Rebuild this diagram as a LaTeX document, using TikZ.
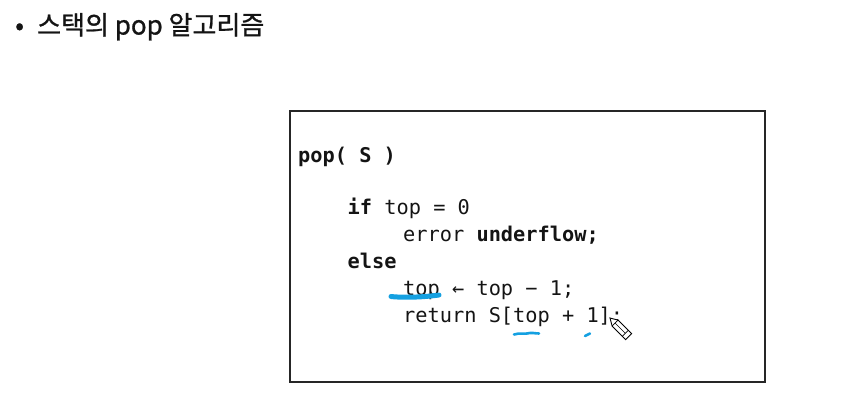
\documentclass[tikz,border=0pt]{standalone}
\usepackage{fontspec}
\setmonofont{DejaVu Sans Mono}
\newfontfamily\krfont[RawFeature={embolden=0.9}]{Noto Sans CJK KR}
\definecolor{hl}{RGB}{20,160,225}
\definecolor{ink}{RGB}{20,20,20}
\tikzset{
  codeline/.style={anchor=base west, inner sep=0pt, text=ink, font=\fontsize{20.3}{24}\selectfont\ttfamily},
  titletext/.style={anchor=base west, inner sep=0pt, text=ink, font=\fontsize{26}{30}\selectfont\krfont},
  hlstroke/.style={draw=hl, line cap=round, line join=round},
  codebox/.style={draw=black!85, line width=1.4pt}
}
\begin{document}
\begin{tikzpicture}[x=1pt,y=-1pt]
\useasboundingbox (0,0) rectangle (861,408);
% title
\node[titletext] (bullet) at (15,34.5) {•};
\node[titletext] (title) at (37,34.5) {스택의 pop 알고리즘};
% box
\draw[codebox] (290,111) rectangle (765,382);
% code
\node[codeline] (l1) at (298,162) {\bfseries pop( S )};
\node[codeline] (l2) at (347.5,214) {\textbf{if} top = 0};
\node[codeline] (l3) at (403,241) {error \textbf{underflow;}};
\node[codeline] (l4) at (347.5,268) {\bfseries else};
\node[codeline] (l5) at (403,295) {top ← top − 1;};
\node[codeline] (l6) at (403,322) {return S[top + 1];};
% highlighter strokes
\draw[hlstroke, line width=5pt] (391,296.5) .. controls (405,298) and (425,297) .. (439,295);
\draw[hlstroke, line width=2.6pt] (514,334.5) .. controls (520,332.5) and (525,334.5) .. (530,333) .. controls (534,332.5) and (537,334) .. (539,333.5);
\draw[hlstroke, line width=2.6pt] (585,336) -- (590,333.5);
% pencil cursor
\begin{scope}[shift={(610,318)}, rotate=-45, scale=1.2]
  \draw[fill=white, line width=0.9pt] (0,0) -- (6,-3.5) -- (22,-3.5) -- (22,3.5) -- (6,3.5) -- cycle;
  \draw[line width=0.7pt] (6,-3.5) -- (6,3.5) (18,-3.5) -- (18,3.5) (6,0) -- (18,0);
\end{scope}
\end{tikzpicture}
\end{document}
